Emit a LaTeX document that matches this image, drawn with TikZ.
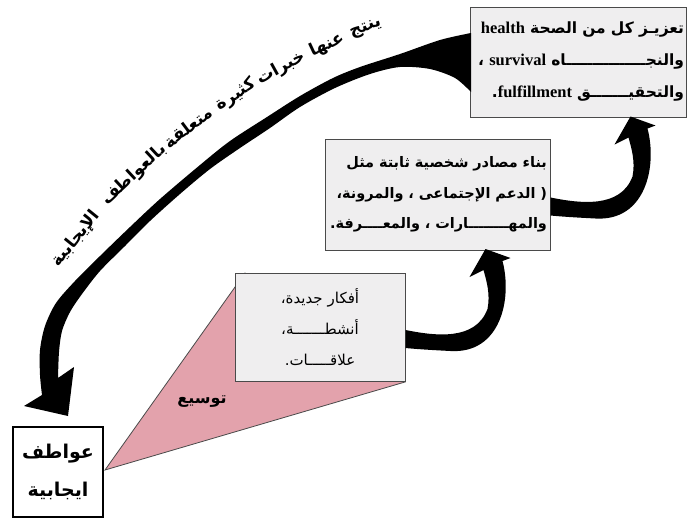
\documentclass[tikz,border=0pt]{standalone}
\usepackage{fontspec}
\usetikzlibrary{calc}
\TeXXeTstate=1
\newfontfamily\arabicfont[Script=Arabic]{DejaVu Sans}
\newfontfamily\enfont{Liberation Serif}
\definecolor{boxfill}{HTML}{EFEEEF}
\definecolor{boxline}{HTML}{4A4A4A}
\definecolor{pinkfill}{HTML}{E3A2AC}
\newcommand{\enw}[1]{\beginL{\enfont\bfseries\fontsize{16.5}{31}\selectfont #1}\endL}
\begin{document}
\begin{tikzpicture}[x=1pt,y=-1pt,
  gbox/.style={draw=boxline, fill=boxfill, line width=1pt, inner sep=0pt},
  arcword/.style={font=\arabicfont\bfseries\fontsize{17}{20}\selectfont, inner sep=0pt},
  pics/curlarrow/.style={code={
    \fill[black] (0,-9) .. controls (30,-3) and (70,2) .. (82,-30)
      .. controls (85,-45) and (81,-58) .. (78,-69) -- (64,-62) -- (80,-90)
      -- (105,-81) -- (97,-78) .. controls (107,-40) and (95,15) .. (45,12)
      .. controls (25,11) and (10,10) .. (0,9) -- cycle;
  }}
]
\useasboundingbox (0,0) rectangle (688,517);

% boxes
\node[gbox, minimum width=216pt, minimum height=110pt, text width=212pt, align=right,
  font=\arabicfont\bfseries\fontsize{15.5}{32}\selectfont] (top) at (578,62)
 {\beginR تعزيـز كل من  الصحة \enw{health}\endR\\
  \beginR والنجـــــــــــــــاه \enw{survival}{} ،\endR\\
  \beginR والتحقيـــــــق \enw{fulfillment}.\endR};

\node[gbox, minimum width=225pt, minimum height=111pt, text width=219pt, align=right,
  font=\arabicfont\bfseries\fontsize{14.5}{30.5}\selectfont] (mid) at (437.5,194.5)
 {\beginR بناء مصادر شخصية ثابتة مثل\endR\\
  \beginR ( الدعم الإجتماعى ، والمرونة،\endR\\
  \beginR والمهــــــــارات ، والمعــــرفة.\endR};

% pink wedge
\fill[pinkfill, draw=boxline, line width=0.8pt] (105,470) -- (245,273) -- (405,382) -- cycle;

\node[gbox, minimum width=170pt, minimum height=108pt, text width=160pt, align=center,
  font=\arabicfont\fontsize{15}{31}\selectfont] (low) at (320,327)
 {\beginR أفكار جديدة،\endR\\
  \beginR أنشطـــــــة،\endR\\
  \beginR علاقـــــات.\endR};

\node[font=\arabicfont\bfseries\fontsize{16}{18}\selectfont] (tawsi) at (202,402) {\beginR توسيع\endR};

\node[draw=black, fill=white, line width=1.2pt, minimum width=90pt, minimum height=90pt, inner sep=0pt,
  align=center, font=\arabicfont\bfseries\fontsize{19}{38}\selectfont] (emo) at (58,472)
 {\beginR عواطف\endR\\ \beginR ايجابية\endR};

% small curled arrows
\pic at ($(low.east)+(0,12)$) {curlarrow};
\pic at ($(mid.east)+(0,12)$) {curlarrow};

% big arrow
\fill[black] plot[smooth] coordinates {(471,33) (440,40) (400,54) (360,67) (333,78) (300,96) (267,117)
   (230,141) (200,165) (160,199) (130,227) (100,256) (75,281) (56,303) (45,326) (40,350) (40,375) (42,395)}
  -- (24,406) -- (68,416) -- (74,367) --
  plot[smooth] coordinates {(58,378) (59,352) (62,331) (70,312) (82,294) (100,271) (125,246) (150,221)
   (180,194) (210,169) (240,148) (270,128) (300,107) (335,88) (370,74) (400,67) (430,69) (455,78) (471,92)}
  -- cycle;

% curved caption
\node[arcword, rotate=20] (w1) at (366,29) {\beginR ينتج\endR};
\node[arcword, rotate=25] (w2) at (327,45) {\beginR عنها\endR};
\node[arcword, rotate=29] (w3) at (281,68) {\beginR خبرات\endR};
\node[arcword, rotate=33] (w4) at (236,95) {\beginR كثيرة\endR};
\node[arcword, rotate=37] (w5) at (188,127) {\beginR متعلقة\endR};
\node[arcword, rotate=43] (w6) at (134,175) {\beginR بالعواطف\endR};
\node[arcword, rotate=51] (w7) at (76,239) {\beginR الإيجابية\endR};
\end{tikzpicture}
\end{document}
